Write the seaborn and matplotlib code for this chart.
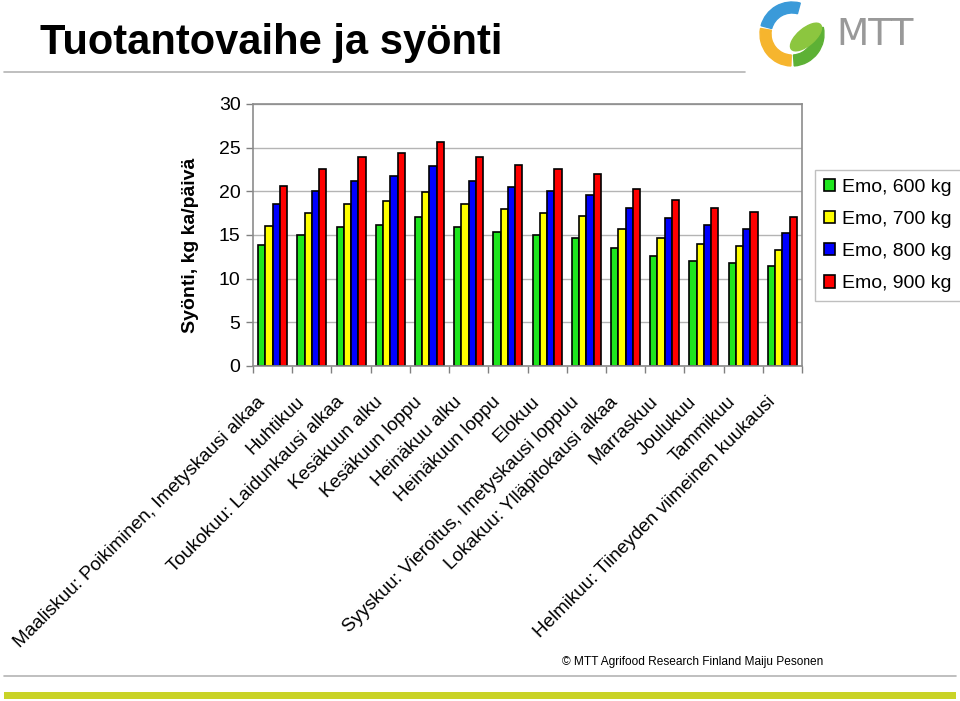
import matplotlib
matplotlib.use("Agg")
from matplotlib import pyplot as plt
from matplotlib.patches import Wedge, Ellipse, Rectangle
from matplotlib.lines import Line2D
import matplotlib.transforms as mtransforms
import pandas as pd
import seaborn as sns

# tuotantovaiheet (x-akseli)
vaiheet = [
    "Maaliskuu: Poikiminen, Imetyskausi alkaa",
    "Huhtikuu",
    "Toukokuu: Laidunkausi alkaa",
    "Kesäkuun alku",
    "Kesäkuun loppu",
    "Heinäkuu alku",
    "Heinäkuun loppu",
    "Elokuu",
    "Syyskuu: Vieroitus, Imetyskausi loppuu",
    "Lokakuu: Ylläpitokausi alkaa",
    "Marraskuu",
    "Joulukuu",
    "Tammikuu",
    "Helmikuu: Tiineyden viimeinen kuukausi",
]
# syönti kg ka/päivä
emo_600 = [13.8, 15.0, 15.9, 16.2, 17.1, 15.9, 15.4, 15.0, 14.7, 13.5, 12.6, 12.0, 11.8, 11.5]
emo_700 = [16.0, 17.5, 18.6, 18.9, 19.9, 18.6, 18.0, 17.5, 17.2, 15.7, 14.7, 14.0, 13.7, 13.3]
emo_800 = [18.5, 20.0, 21.2, 21.7, 22.9, 21.2, 20.5, 20.0, 19.6, 18.1, 16.9, 16.1, 15.7, 15.2]
emo_900 = [20.6, 22.5, 23.9, 24.4, 25.6, 23.9, 23.0, 22.5, 22.0, 20.3, 19.0, 18.1, 17.6, 17.1]
sarjat = ["Emo, 600 kg", "Emo, 700 kg", "Emo, 800 kg", "Emo, 900 kg"]
varit = ["#1EE61E", "#FFFF00", "#0000FF", "#FF0000"]

rows = []
for nimi, arvot in zip(sarjat, [emo_600, emo_700, emo_800, emo_900]):
    for v, a in zip(vaiheet, arvot):
        rows.append({"vaihe": v, "syonti": a, "emo": nimi})
df = pd.DataFrame(rows)

sns.set_theme(style="white")
plt.rcParams["font.family"] = ["Liberation Sans", "DejaVu Sans"]
plt.rcParams["text.color"] = "black"
plt.rcParams["axes.labelcolor"] = "black"
plt.rcParams["xtick.color"] = "black"
plt.rcParams["ytick.color"] = "black"

fig = plt.figure(figsize=(9.6, 7.01), dpi=100)
ax = fig.add_axes([253 / 960, 1 - 366 / 701, 549 / 960, 262 / 701])

sns.barplot(data=df, x="vaihe", y="syonti", hue="emo", order=vaiheet, hue_order=sarjat,
            palette=varit, edgecolor="black", linewidth=1.2, width=0.74, gap=0,
            saturation=1, ax=ax, legend=True)

ax.set_ylim(0, 30)
ax.set_xlim(-0.5, len(vaiheet) - 0.5)
ax.set_yticks(range(0, 31, 5))
ax.tick_params(axis="y", labelsize=14, length=5, width=1, color="#808080", left=True, pad=4)
ax.yaxis.grid(True, color="#B4B4B4", linewidth=1)
ax.set_axisbelow(True)
for s in ax.spines.values():
    s.set_color("#8C8C8C")
    s.set_linewidth(1.2)

# kategoriarajat pieninä tikkeinä
ax.set_xticks([i - 0.5 for i in range(len(vaiheet) + 1)], minor=True)
ax.tick_params(axis="x", which="minor", length=5, width=1, color="#808080", bottom=True)
ax.tick_params(axis="x", which="major", length=0, labelsize=13.6, pad=24)
ax.set_xticks(range(len(vaiheet)))
ax.set_xticklabels(vaiheet, rotation=45, ha="right", va="center", rotation_mode="anchor")
offset = mtransforms.ScaledTranslation(-10 / 100, 0, fig.dpi_scale_trans)
for lab in ax.get_xticklabels():
    lab.set_transform(lab.get_transform() + offset)

ax.set_xlabel("")
ax.set_ylabel("Syönti, kg ka/päivä", fontsize=14, fontweight="bold")
ax.yaxis.set_label_coords(-0.099, 0.46)

h, l = ax.get_legend_handles_labels()
ax.get_legend().remove()
leg = fig.legend(h, l, loc="upper left", bbox_to_anchor=(815 / 960, 1 - 170 / 701),
                 fontsize=14, frameon=True, fancybox=False, edgecolor="#B0B0B0",
                 handlelength=0.6, handleheight=0.6, handletextpad=0.35,
                 labelspacing=0.78, borderpad=0.45, borderaxespad=0)
leg.get_frame().set_linewidth(1)

# otsikko ja viivat
fig.text(40 / 960, 1 - 43 / 701, "Tuotantovaihe ja syönti", fontsize=30, fontweight="bold",
         va="center", ha="left", color="black")
fig.add_artist(Line2D([4 / 960, 745 / 960], [1 - 72 / 701] * 2, color="#B4B4B4", lw=1.2))
fig.text(562 / 960, 1 - 662 / 701, "© MTT Agrifood Research Finland Maiju Pesonen",
         fontsize=8.6, va="center", ha="left", color="black")
fig.add_artist(Line2D([4 / 960, 956 / 960], [1 - 676 / 701] * 2, color="#B4B4B4", lw=1.2))
fig.add_artist(Rectangle((4 / 960, 1 - 699 / 701), 952 / 960, 7 / 701,
                         transform=fig.transFigure, color="#C9D327", lw=0))

# MTT-logo
lax = fig.add_axes([750 / 960, 1 - 70 / 701, 210 / 960, 70 / 701])
lax.set_xlim(750, 960)
lax.set_ylim(0, 70)
lax.set_aspect("equal")
lax.axis("off")
cx, cy = 792, 36
lax.add_patch(Wedge((cx, cy), 32, 75, 165, width=11, color="#3A9AD9"))
lax.add_patch(Wedge((cx, cy), 32, 170, 268, width=11, color="#F6B52E"))
lax.add_patch(Wedge((cx, cy), 32, 274, 12, width=11, color="#5DB135"))
lax.add_patch(Ellipse((806, 33), 38, 17, angle=40, color="#8CC63F"))
lax.text(836, 35, "MTT", fontsize=27, color="#999999", va="center", ha="left",
         family=["DejaVu Sans"])

plt.savefig("out.png", dpi=100)
